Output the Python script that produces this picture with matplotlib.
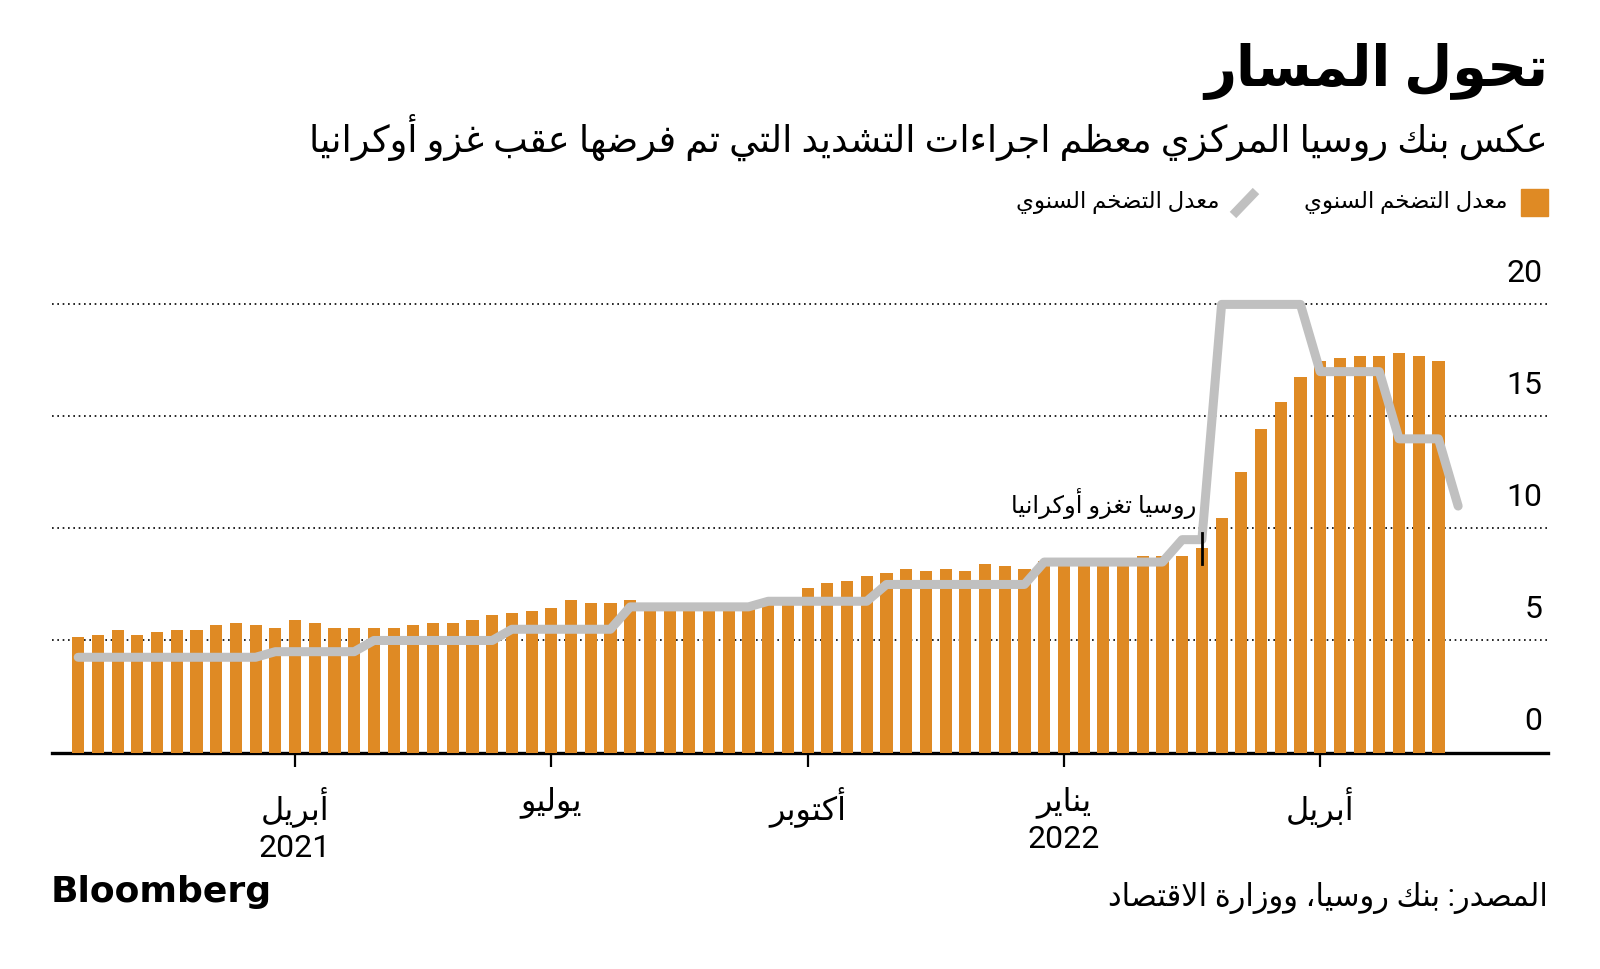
import pandas as pd
import matplotlib
matplotlib.use('Agg')
import matplotlib.pyplot as plt
from matplotlib.lines import Line2D
from matplotlib.patches import Rectangle

plt.rcParams['font.family'] = ['Roboto', 'DejaVu Sans']

# --- data (weekly, %) ---
dates = pd.date_range('2021-01-18', periods=70, freq='7D')
inflation = [5.15, 5.25, 5.46, 5.25, 5.36, 5.46, 5.46, 5.69, 5.79, 5.69,
             5.57, 5.91, 5.79, 5.57, 5.57, 5.57, 5.57, 5.69, 5.79, 5.79,
             5.91, 6.12, 6.22, 6.33, 6.43, 6.79, 6.68, 6.68, 6.80, 6.55,
             6.50, 6.50, 6.50, 6.50, 6.60, 6.65, 6.70, 7.34, 7.56, 7.65,
             7.87, 7.99, 8.20, 8.10, 8.20, 8.10, 8.42, 8.32, 8.20, 8.55,
             8.45, 8.50, 8.60, 8.60, 8.75, 8.75, 8.78, 9.12, 10.45, 12.50,
             14.42, 15.65, 16.74, 17.49, 17.59, 17.68, 17.68, 17.81, 17.68, 17.49]

rate_dates = pd.date_range('2021-01-18', periods=71, freq='7D')
key_rate = [4.25] * 10 + [4.5] * 5 + [5.0] * 7 + [5.5] * 6 + [6.5] * 7 + \
           [6.75] * 6 + [7.5] * 8 + [8.5] * 7 + [9.5] * 2 + [20] * 5 + \
           [17] * 4 + [14] * 3 + [11]

tick_labels = ['أبريل\n2021', 'يوليو', 'أكتوبر', 'يناير\n2022', 'أبريل']
y_ticks = [0, 5, 10, 15, 20]
invasion_idx = 57

ORANGE = '#DF8A24'
GREY = '#C0C0C0'

# --- minimal Arabic shaping (matplotlib has no bidi / joining) ---
FORMS = {
    'ء': (0xFE80, 1), 'آ': (0xFE81, 2), 'أ': (0xFE83, 2), 'ؤ': (0xFE85, 2),
    'إ': (0xFE87, 2), 'ئ': (0xFE89, 4), 'ا': (0xFE8D, 2), 'ب': (0xFE8F, 4),
    'ة': (0xFE93, 2), 'ت': (0xFE95, 4), 'ث': (0xFE99, 4), 'ج': (0xFE9D, 4),
    'ح': (0xFEA1, 4), 'خ': (0xFEA5, 4), 'د': (0xFEA9, 2), 'ذ': (0xFEAB, 2),
    'ر': (0xFEAD, 2), 'ز': (0xFEAF, 2), 'س': (0xFEB1, 4), 'ش': (0xFEB5, 4),
    'ص': (0xFEB9, 4), 'ض': (0xFEBD, 4), 'ط': (0xFEC1, 4), 'ظ': (0xFEC5, 4),
    'ع': (0xFEC9, 4), 'غ': (0xFECD, 4), 'ف': (0xFED1, 4), 'ق': (0xFED5, 4),
    'ك': (0xFED9, 4), 'ل': (0xFEDD, 4), 'م': (0xFEE1, 4), 'ن': (0xFEE5, 4),
    'ه': (0xFEE9, 4), 'و': (0xFEED, 2), 'ى': (0xFEEF, 2), 'ي': (0xFEF1, 4),
}
LAM_ALEF = {'آ': 0xFEF5, 'أ': 0xFEF7, 'إ': 0xFEF9, 'ا': 0xFEFB}


def shape_line(text):
    out = []
    i, n = 0, len(text)
    while i < n:
        c = text[i]
        if c not in FORMS:
            out.append(c)
            i += 1
            continue
        prev = text[i - 1] if i > 0 else ''
        joins_prev = prev in FORMS and FORMS[prev][1] == 4
        if c == 'ل' and i + 1 < n and text[i + 1] in LAM_ALEF:
            out.append(chr(LAM_ALEF[text[i + 1]] + (1 if joins_prev else 0)))
            i += 2
            continue
        base, k = FORMS[c]
        nxt = text[i + 1] if i + 1 < n else ''
        joins_next = k == 4 and nxt in FORMS and FORMS[nxt][1] != 1
        if k == 1:
            form = 0
        elif joins_prev and joins_next:
            form = 3
        elif joins_prev:
            form = 1
        elif joins_next:
            form = 2
        else:
            form = 0
        out.append(chr(base + form))
        i += 1
    s = ''.join(out)
    if any(ch in FORMS for ch in text):
        s = s[::-1]
    return s


def ar(text):
    return '\n'.join(shape_line(line) for line in text.split('\n'))


W, H = 1600, 969
fig = plt.figure(figsize=(W / 100, H / 100), dpi=100)


def fx(x):
    return x / W


def fy(y):
    return 1 - y / H


# plot area
ax = fig.add_axes([fx(52), fy(752.5), fx(1548) - fx(52), fy(282) - fy(752.5)])
ax.set_ylim(0, 21)
ax.set_xlim(dates[0] - pd.Timedelta(days=9.3), dates[0] + pd.Timedelta(days=521.9))

for v in y_ticks[1:]:
    ax.axhline(v, color='black', lw=1.2, ls=(0, (1, 2.2)), zorder=1)

ax.bar(dates, inflation, width=4.3, color=ORANGE, zorder=3)
ax.plot(rate_dates, key_rate, color=GREY, lw=6.5, zorder=4,
        solid_capstyle='round', solid_joinstyle='round')

# invasion marker
d_inv = dates[invasion_idx]
ax.plot([d_inv, d_inv], [8.4, 9.8], color='black', lw=2, zorder=5)
ax.annotate(ar('روسيا تغزو أوكرانيا'), xy=(d_inv, 11.1), xytext=(-4, 0),
            textcoords='offset points', ha='right', va='center', fontsize=17.5)

# y labels sit above the gridlines on the right
for v in y_ticks:
    ax.annotate(str(v), xy=(1, v), xycoords=('axes fraction', 'data'),
                xytext=(-4, 16), textcoords='offset points',
                ha='right', va='baseline', fontsize=23)

for side in ['top', 'left', 'right']:
    ax.spines[side].set_visible(False)
ax.spines['bottom'].set_linewidth(2.4)
ax.spines['bottom'].set_zorder(2.5)
ax.set_yticks([])

tick_dates = [d for d in dates if d.month in (1, 4, 7, 10) and d.day <= 7]
ax.set_xticks(tick_dates)
ax.set_xticklabels([ar(t) for t in tick_labels], fontsize=23, linespacing=1.3)
ax.tick_params(axis='x', length=10, width=1.6, color='black', pad=14)

# titles
fig.text(fx(1548), fy(72), ar('تحول المسار'), ha='right', va='center',
         fontsize=40, fontweight='bold')
fig.text(fx(1548), fy(137), ar('عكس بنك روسيا المركزي معظم اجراءات التشديد التي تم فرضها عقب غزو أوكرانيا'),
         ha='right', va='center', fontsize=26.5)

# legend
fig.patches.append(Rectangle((fx(1521), fy(216)), fx(27), fy(189) - fy(216),
                             transform=fig.transFigure, color=ORANGE))
fig.text(fx(1508), fy(203), ar('معدل التضخم السنوي'), ha='right', va='center', fontsize=16.5)
fig.lines.append(Line2D([fx(1233), fx(1256)], [fy(215), fy(191)], transform=fig.transFigure,
                        color=GREY, lw=6.5, solid_capstyle='butt'))
fig.text(fx(1220), fy(203), ar('معدل التضخم السنوي'), ha='right', va='center', fontsize=16.5)

# footer
fig.text(fx(51), fy(892), 'Bloomberg', ha='left', va='center', fontsize=26,
         fontweight='bold', family='DejaVu Sans')
fig.text(fx(1548), fy(898), ar('المصدر: بنك روسيا، ووزارة الاقتصاد'), ha='right', va='center',
         fontsize=22)

fig.savefig('out.png', dpi=100)
